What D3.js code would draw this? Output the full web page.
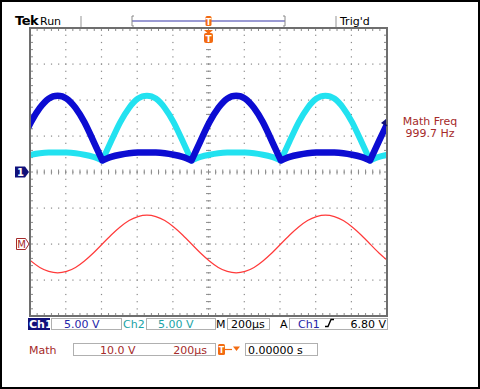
<!DOCTYPE html>
<html>
<head>
<meta charset="utf-8">
<script src="https://cdn.jsdelivr.net/npm/d3@7"></script>
<style>
  body { margin: 0; background: #fff; }
  svg { display: block; font-family: "DejaVu Sans", sans-serif; }
</style>
</head>
<body>
<svg id="scope" width="480" height="389"></svg>
<script>
// sample times in µs (200 µs/div, trigger at 0)
const times = [-1045, -995, -945, -895, -845, -795, -745, -695, -645, -595,
  -545, -495, -445, -395, -345, -295, -245, -195, -145, -95,
  -45, 5, 55, 105, 155, 205, 255, 305, 355, 405,
  455, 505, 555, 605, 655, 705, 755, 805, 855, 905,
  955, 1005];

// rectifier cusps (µs) where the traces switch over
const cusps = [-595, -95, 405, 905];

// Ch1 volts (5 V/div)
const ch1 = [4.3, 6.9, 8.9, 10.2, 10.6, 10.2, 8.9, 6.9, 4.3, 1.6,
  2.1, 2.4, 2.6, 2.7, 2.7, 2.7, 2.6, 2.4, 2.1, 1.6,
  4.3, 6.9, 8.9, 10.2, 10.6, 10.2, 8.9, 6.9, 4.3, 1.6,
  2.1, 2.4, 2.6, 2.7, 2.7, 2.7, 2.6, 2.4, 2.1, 1.6,
  4.3, 6.9];

// Ch2 volts (5 V/div)
const ch2 = [2.1, 2.4, 2.6, 2.7, 2.7, 2.7, 2.6, 2.4, 2.1, 1.6,
  4.3, 6.9, 8.9, 10.2, 10.6, 10.2, 8.9, 6.9, 4.3, 1.6,
  2.1, 2.4, 2.6, 2.7, 2.7, 2.7, 2.6, 2.4, 2.1, 1.6,
  4.3, 6.9, 8.9, 10.2, 10.6, 10.2, 8.9, 6.9, 4.3, 1.6,
  2.1, 2.4];

// Math volts (10 V/div, ground 2 div below centre)
const math = [-2.5, -4.7, -6.5, -7.6, -8.0, -7.6, -6.5, -4.7, -2.5, 0,
  2.5, 4.7, 6.5, 7.6, 8.0, 7.6, 6.5, 4.7, 2.5, 0,
  -2.5, -4.7, -6.5, -7.6, -8.0, -7.6, -6.5, -4.7, -2.5, 0,
  2.5, 4.7, 6.5, 7.6, 8.0, 7.6, 6.5, 4.7, 2.5, 0,
  -2.5, -4.7];

const trigLevel = 6.8; // Ch1 trigger level, volts

const svg = d3.select("#scope");
const gLeft = 30, gRight = 387, gTop = 28, gBottom = 316;

const x = d3.scaleLinear().domain([-1000, 1000]).range([gLeft, gRight]);
const yDiv = d3.scaleLinear().domain([-4, 4]).range([gBottom, gTop]);
const yCh = d3.scaleLinear().domain([-20, 20]).range([gBottom, gTop]);
const yMath = d3.scaleLinear().domain([-20, 60]).range([gBottom, gTop]);

const orange = "#f26b12";
const navy = "#10107a";
const darkRed = "#a52a2a";

// outer frame
svg.append("rect").attr("x", 1).attr("y", 1).attr("width", 478).attr("height", 387)
  .attr("fill", "#fff").attr("stroke", "#000").attr("stroke-width", 2);

// ---- header ----
svg.append("text").attr("x", 15).attr("y", 25).text("Tek")
  .style("font-size", "13px").style("font-weight", "bold").style("letter-spacing", "-0.5px");
svg.append("text").attr("x", 40).attr("y", 25).text("Run").style("font-size", "11px");
[81, 336].forEach((gx) => {
  svg.append("line").attr("x1", gx).attr("x2", gx).attr("y1", 16).attr("y2", 27)
    .attr("stroke", "#b8b8b8").attr("stroke-width", 1.5);
});
svg.append("text").attr("x", 340).attr("y", 25).text("Trig'd").style("font-size", "11px");

// record-position bar
svg.append("line").attr("x1", 132).attr("x2", 285).attr("y1", 21).attr("y2", 21)
  .attr("stroke", "#7878c4").attr("stroke-width", 1.5);
[[132, 1], [285, -1]].forEach(([bx, d]) => {
  svg.append("path").attr("d", `M${bx + 2 * d},16H${bx}V26H${bx + 2 * d}`)
    .attr("fill", "none").attr("stroke", "#888").attr("stroke-width", 1);
});
svg.append("rect").attr("x", x(0) - 3).attr("y", 16).attr("width", 6).attr("height", 10)
  .attr("rx", 1.5).attr("fill", orange);
svg.append("text").attr("x", x(0)).attr("y", 24.5).attr("text-anchor", "middle")
  .text("T").style("font-size", "8px").style("font-weight", "bold").attr("fill", "#fff");

// ---- graticule ----
const grid = svg.append("g");
const majorX = d3.range(-1000, 1001, 200);
const majorY = d3.range(-4, 5, 1);
const minorX = d3.range(-1000, 1001, 40);
const minorY = d3.range(-4, 4.01, 0.2);

// dotted grid lines
majorX.slice(1, -1).forEach((t) => {
  minorY.forEach((d) => {
    grid.append("rect").attr("x", x(t) - 0.5).attr("y", yDiv(d) - 0.5)
      .attr("width", 1.2).attr("height", 1.2).attr("fill", "#8a8a8a");
  });
});
majorY.slice(1, -1).forEach((d) => {
  minorX.forEach((t) => {
    grid.append("rect").attr("x", x(t) - 0.5).attr("y", yDiv(d) - 0.5)
      .attr("width", 1.2).attr("height", 1.2).attr("fill", "#8a8a8a");
  });
});

// centre cross ticks
minorX.forEach((t) => {
  grid.append("line").attr("x1", x(t)).attr("x2", x(t))
    .attr("y1", yDiv(0) - 2.5).attr("y2", yDiv(0) + 2.5)
    .attr("stroke", "#8a8a8a").attr("stroke-width", 1);
});
minorY.forEach((d) => {
  grid.append("line").attr("x1", x(0) - 2.5).attr("x2", x(0) + 2.5)
    .attr("y1", yDiv(d)).attr("y2", yDiv(d))
    .attr("stroke", "#8a8a8a").attr("stroke-width", 1);
});

// edge ticks
minorX.forEach((t) => {
  grid.append("line").attr("x1", x(t)).attr("x2", x(t)).attr("y1", gTop).attr("y2", gTop + 3)
    .attr("stroke", "#8a8a8a");
  grid.append("line").attr("x1", x(t)).attr("x2", x(t)).attr("y1", gBottom - 3).attr("y2", gBottom)
    .attr("stroke", "#8a8a8a");
});
minorY.forEach((d) => {
  grid.append("line").attr("x1", gLeft).attr("x2", gLeft + 3).attr("y1", yDiv(d)).attr("y2", yDiv(d))
    .attr("stroke", "#8a8a8a");
  grid.append("line").attr("x1", gRight - 3).attr("x2", gRight).attr("y1", yDiv(d)).attr("y2", yDiv(d))
    .attr("stroke", "#8a8a8a");
});

grid.append("rect").attr("x", gLeft).attr("y", gTop)
  .attr("width", gRight - gLeft).attr("height", gBottom - gTop)
  .attr("fill", "none").attr("stroke", "#6e6e6e").attr("stroke-width", 2);

// ---- traces ----
svg.append("clipPath").attr("id", "screen")
  .append("rect").attr("x", gLeft + 1).attr("y", gTop + 1)
  .attr("width", gRight - gLeft - 2).attr("height", gBottom - gTop - 2);

const traces = svg.append("g").attr("clip-path", "url(#screen)");

// split a series into pieces between cusps so each cusp stays sharp
function segments(values, yScale) {
  const pts = times.map((t, i) => ({ x: x(t), y: yScale(values[i]), t: t }));
  const out = [];
  let cur = [];
  pts.forEach((p) => {
    cur.push(p);
    if (cusps.includes(p.t)) {
      out.push(cur);
      cur = [p];
    }
  });
  if (cur.length > 1) out.push(cur);
  return out;
}

const segLine = d3.line().x((d) => d.x).y((d) => d.y).curve(d3.curveNatural);

function drawTrace(values, yScale, colour, width) {
  const d = segments(values, yScale).map((s) => segLine(s)).join("");
  traces.append("path").attr("d", d)
    .attr("fill", "none").attr("stroke", colour).attr("stroke-width", width)
    .attr("stroke-linecap", "round").attr("stroke-linejoin", "round");
}

drawTrace(ch2, yCh, "#22e2f0", 6);
drawTrace(ch1, yCh, "#0c0cd2", 6.5);

const mathLine = d3.line().x((d, i) => x(times[i])).y((d) => yMath(d)).curve(d3.curveNatural);
traces.append("path").attr("d", mathLine(math))
  .attr("fill", "none").attr("stroke", "#ff3a3a").attr("stroke-width", 1.2);

// trigger T marker below top edge
svg.append("path")
  .attr("d", `M${x(0) - 4.5},30L${x(0) + 4.5},30L${x(0)},34Z`).attr("fill", orange);
svg.append("rect").attr("x", x(0) - 4.5).attr("y", 33).attr("width", 9).attr("height", 10)
  .attr("rx", 2).attr("fill", orange);
svg.append("text").attr("x", x(0)).attr("y", 41.5).attr("text-anchor", "middle")
  .text("T").style("font-size", "9px").style("font-weight", "bold").attr("fill", "#fff");

// trigger level arrow on right edge
const ty = yCh(trigLevel);
svg.append("path")
  .attr("d", `M${gRight - 6},${ty}L${gRight - 1},${ty - 4}L${gRight - 1},${ty + 3}Z`)
  .attr("fill", navy);
svg.append("line").attr("x1", gRight - 3).attr("x2", gRight).attr("y1", ty).attr("y2", ty + 3)
  .attr("stroke", navy).attr("stroke-width", 1.5);

// ground markers
svg.append("path")
  .attr("d", `M15,${yCh(0) - 5.5}H25L29,${yCh(0)}L25,${yCh(0) + 5.5}H15Z`)
  .attr("fill", navy);
svg.append("text").attr("x", 20.5).attr("y", yCh(0) + 4).attr("text-anchor", "middle")
  .text("1").style("font-size", "10px").style("font-weight", "bold").attr("fill", "#fff");

svg.append("path")
  .attr("d", `M16.5,${yMath(0) - 5.5}H25.5L29,${yMath(0)}L25.5,${yMath(0) + 5.5}H16.5Z`)
  .attr("fill", "#fff").attr("stroke", darkRed).attr("stroke-width", 1);
svg.append("text").attr("x", 21.5).attr("y", yMath(0) + 4).attr("text-anchor", "middle")
  .text("M").style("font-size", "10px").attr("fill", darkRed);

// ---- measurement readout ----
svg.append("text").attr("x", 430).attr("y", 125).attr("text-anchor", "middle")
  .text("Math Freq").style("font-size", "11px").attr("fill", darkRed);
svg.append("text").attr("x", 430).attr("y", 137).attr("text-anchor", "middle")
  .text("999.7 Hz").style("font-size", "11px").attr("fill", darkRed);

// ---- status bar ----
function box(bx, by, w, h) {
  svg.append("rect").attr("x", bx + 0.5).attr("y", by + 0.5).attr("width", w).attr("height", h)
    .attr("fill", "#fff").attr("stroke", "#b0b0b0").attr("stroke-width", 1);
}
function label(tx, ty2, str, colour, anchor) {
  return svg.append("text").attr("x", tx).attr("y", ty2).text(str)
    .attr("text-anchor", anchor || "start")
    .style("font-size", "11px").attr("fill", colour);
}

const rowY = 318, rowH = 11, base1 = 327.5;
svg.append("rect").attr("x", 28).attr("y", rowY).attr("width", 22).attr("height", rowH + 1)
  .attr("fill", navy);
label(29, base1, "Ch1", "#fff").style("font-weight", "bold");
box(51, rowY, 70, rowH);
label(64, base1, "5.00 V", "#2424a8");
label(123, base1, "Ch2", "#1ba3a6");
box(146, rowY, 69, rowH);
label(158, base1, "5.00 V", "#1ba3a6");
label(216, base1, "M", "#000");
box(227, rowY, 42, rowH);
label(231, base1, "200µs", "#000");
label(280, base1, "A", "#000");
box(289, rowY, 98, rowH);
label(298, base1, "Ch1", "#2424a8");
svg.append("path").attr("d", "M325,326.5H328L331,319.5H334")
  .attr("fill", "none").attr("stroke", "#000").attr("stroke-width", 1.4);
label(386, base1, "6.80 V", "#000", "end");

const row2Y = 343, base2 = 353.5;
label(29, base2, "Math", darkRed);
box(73, row2Y, 142, 12);
label(100, base2, "10.0 V", darkRed);
label(207, base2, "200µs", darkRed, "end");
svg.append("rect").attr("x", 218).attr("y", 344).attr("width", 7).attr("height", 11)
  .attr("rx", 1.5).attr("fill", orange);
svg.append("text").attr("x", 221.5).attr("y", 353).attr("text-anchor", "middle")
  .text("T").style("font-size", "8px").style("font-weight", "bold").attr("fill", "#fff");
svg.append("line").attr("x1", 225).attr("x2", 232).attr("y1", 349.5).attr("y2", 349.5)
  .attr("stroke", orange).attr("stroke-width", 1.2);
svg.append("path").attr("d", "M233,346.5H240L236.5,351Z").attr("fill", orange);
box(245, row2Y, 72, 12);
label(248, base2, "0.00000 s", "#000");
</script>
</body>
</html>
